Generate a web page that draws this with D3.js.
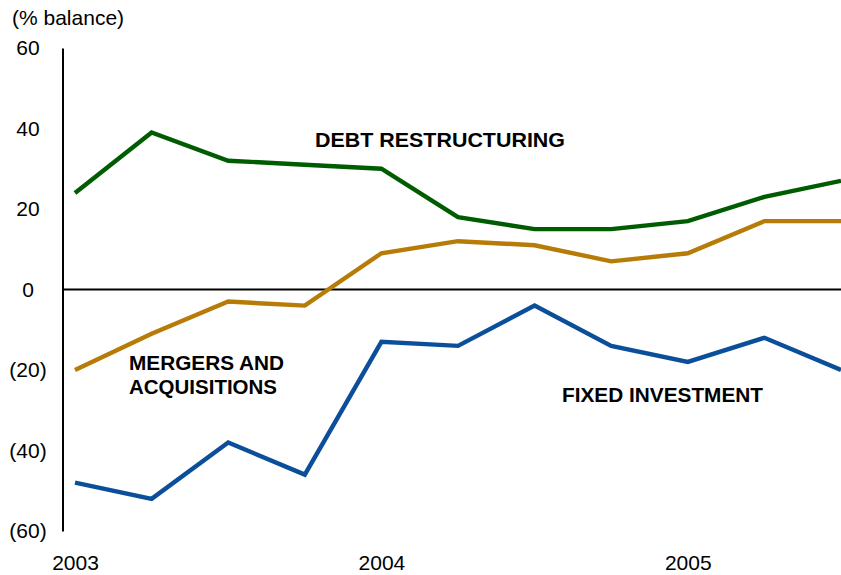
<!DOCTYPE html>
<html>
<head>
<meta charset="utf-8">
<script src="https://cdn.jsdelivr.net/npm/d3@7"></script>
<style>
  html, body { margin: 0; padding: 0; background: #fff; }
  svg { display: block; font-family: "Liberation Sans", Arial, sans-serif; }
</style>
</head>
<body>
<svg id="chart" width="841" height="575"></svg>
<script>
// Quarterly survey balances, 2003 Q1 – 2005 Q3
const quarters = ["2003Q1","2003Q2","2003Q3","2003Q4","2004Q1","2004Q2","2004Q3","2004Q4","2005Q1","2005Q2","2005Q3"];
const debtRestructuring = [24, 39, 32, 31, 30, 18, 15, 15, 17, 23, 27];
const mergersAcquisitions = [-20, -11, -3, -4, 9, 12, 11, 7, 9, 17, 17];
const fixedInvestment = [-48, -52, -38, -46, -13, -14, -4, -14, -18, -12, -20];
const yTicks = [60, 40, 20, 0, -20, -40, -60];
const yearTicks = ["2003Q1", "2004Q1", "2005Q1"];
const yearLabels = ["2003", "2004", "2005"];
const yUnit = "(% balance)";

const series = [
  { name: "DEBT RESTRUCTURING", values: debtRestructuring, color: "#005c00" },
  { name: "MERGERS AND ACQUISITIONS", values: mergersAcquisitions, color: "#b77b08" },
  { name: "FIXED INVESTMENT", values: fixedInvestment, color: "#0b4f9b" }
];

const svg = d3.select("#chart");

const x = d3.scalePoint().domain(quarters).range([75, 841]);
const y = d3.scaleLinear().domain([-60, 60]).range([531, 48]);

// Y axis: plain vertical rule with centred labels, negatives in parentheses
const yAxis = d3.axisLeft(y)
  .tickValues(yTicks)
  .tickSize(0)
  .tickPadding(34.5)
  .tickFormat(d => d < 0 ? `(${-d})` : `${d}`);

const gy = svg.append("g")
  .attr("transform", "translate(62.5,0)")
  .call(yAxis);
gy.select(".domain").attr("stroke", "#000").attr("stroke-width", 2);
gy.selectAll(".tick text")
  .attr("text-anchor", "middle")
  .attr("fill", "#000")
  .style("font-size", "21px")
  .style("font-family", "'Liberation Sans', Arial, sans-serif");

// X axis: year labels only
const xAxis = d3.axisBottom(x)
  .tickValues(yearTicks)
  .tickSize(0)
  .tickPadding(0)
  .tickFormat(d => yearLabels[yearTicks.indexOf(d)]);

const gx = svg.append("g")
  .attr("transform", "translate(0,555)")
  .call(xAxis);
gx.select(".domain").remove();
gx.selectAll(".tick text")
  .attr("fill", "#000")
  .style("font-size", "21px")
  .style("font-family", "'Liberation Sans', Arial, sans-serif");

// Unit label
svg.append("text")
  .attr("x", 12)
  .attr("y", 25)
  .attr("fill", "#000")
  .style("font-size", "21px")
  .text(yUnit);

// Zero reference line
svg.append("line")
  .attr("x1", 62.5).attr("x2", 841)
  .attr("y1", y(0)).attr("y2", y(0))
  .attr("stroke", "#000")
  .attr("stroke-width", 2);

// Series lines
const line = d3.line()
  .x((d, i) => x(quarters[i]))
  .y(d => y(d));

svg.selectAll("path.series")
  .data(series)
  .join("path")
  .attr("class", "series")
  .attr("d", s => line(s.values))
  .attr("fill", "none")
  .attr("stroke", s => s.color)
  .attr("stroke-width", 4.4)
  .attr("stroke-linejoin", "miter");

// Series annotations
const labels = [
  { lines: ["DEBT RESTRUCTURING"], x: 315, y: 146.5, widths: [250] },
  { lines: ["MERGERS AND", "ACQUISITIONS"], x: 129, y: 370, widths: [155, 148] },
  { lines: ["FIXED INVESTMENT"], x: 562, y: 401.5, widths: [201] }
];

labels.forEach(l => {
  l.lines.forEach((t, i) => {
    svg.append("text")
      .attr("x", l.x)
      .attr("y", l.y + i * 24)
      .attr("fill", "#000")
      .attr("textLength", l.widths[i])
      .attr("lengthAdjust", "spacingAndGlyphs")
      .style("font-size", "19.5px")
      .style("font-weight", "bold")
      .text(t);
  });
});
</script>
</body>
</html>
